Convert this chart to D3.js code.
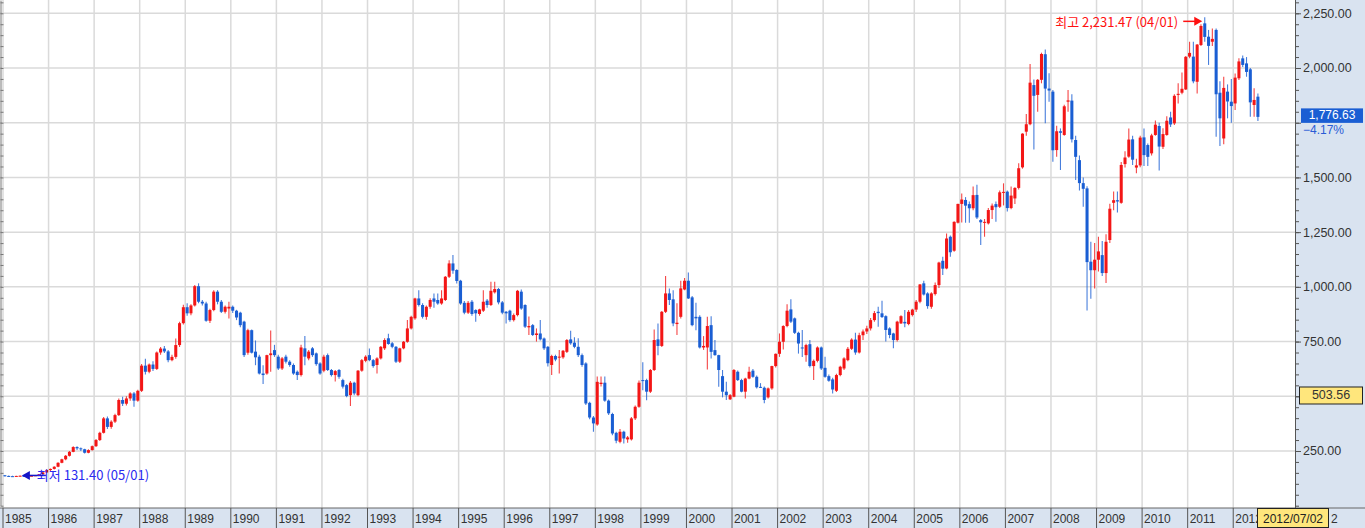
<!DOCTYPE html>
<html>
<head>
<meta charset="utf-8">
<script src="https://cdn.jsdelivr.net/npm/d3@7"></script>
<style>
    html, body { margin: 0; padding: 0; background: #fff; overflow: hidden; }
    svg { display: block; }
</style>
</head>
<body>
<div class="grafic"></div>
<script>

// 연도 라벨 (아래 날짜축)
let years = ["1985", "1986", "1987", "1988", "1989", "1990", "1991", "1992", "1993", "1994",
    "1995", "1996", "1997", "1998", "1999", "2000", "2001", "2002", "2003", "2004",
    "2005", "2006", "2007", "2008", "2009", "2010", "2011", "2012"];

// 월봉 1985/01 ~ 2012/07 : 시가
let openP = [
    139, 136, 135, 134, 136, 137, 134, 137, 137, 139, 144, 152,
    163, 168, 178, 196, 212, 228, 246, 268, 262, 258, 242, 254,
    272, 300, 333, 399, 360, 384, 414, 483, 466, 490, 513, 480,
    525, 640, 612, 645, 625, 700, 718, 705, 665, 680, 734, 834,
    907, 879, 915, 1003, 932, 924, 845, 894, 978, 932, 886, 901,
    909, 891, 882, 841, 699, 802, 704, 681, 604, 604, 688, 711,
    681, 627, 681, 658, 643, 612, 597, 719, 673, 719, 696, 650,
    617, 688, 620, 597, 620, 574, 551, 505, 562, 505, 617, 662,
    688, 665, 643, 673, 719, 765, 742, 726, 658, 719, 749, 810,
    856, 947, 917, 863, 909, 947, 940, 924, 940, 1046, 1107, 1077,
    1028, 927, 882, 932, 894, 876, 891, 937, 917, 975, 990, 929,
    886, 891, 848, 871, 978, 917, 815, 825, 780, 787, 764, 726,
    643, 684, 678, 678, 703, 760, 745, 726, 688, 650, 470, 403,
    371, 556, 562, 480, 419, 333, 292, 338, 303, 303, 399, 452,
    574, 574, 521, 620, 760, 730, 886, 970, 943, 830, 863, 988,
    1028, 952, 863, 863, 723, 723, 825, 711, 688, 592, 521, 486,
    498, 612, 574, 521, 581, 617, 589, 543, 539, 495, 536, 638,
    694, 749, 821, 897, 856, 790, 723, 688, 738, 638, 662, 723,
    630, 592, 577, 525, 597, 627, 665, 717, 759, 700, 779, 796,
    810, 848, 886, 879, 866, 810, 787, 757, 833, 840, 830, 871,
    896, 932, 1016, 970, 909, 967, 1008, 1119, 1084, 1229, 1165, 1293,
    1379, 1397, 1378, 1359, 1420, 1305, 1295, 1290, 1351, 1378, 1366, 1430,
    1435, 1360, 1404, 1452, 1546, 1709, 1743, 1922, 1877, 1946, 2063, 1906,
    1892, 1625, 1711, 1694, 1846, 1851, 1671, 1579, 1474, 1450, 1115, 1076,
    1124, 1145, 1063, 1214, 1384, 1396, 1384, 1561, 1595, 1674, 1545, 1555,
    1683, 1648, 1610, 1694, 1735, 1640, 1694, 1774, 1747, 1877, 1887, 1902,
    2052, 2052, 1937, 2105, 2204, 2143, 2120, 2174, 1887, 1678, 1892, 1846,
    1838, 1953, 2044, 2021, 1994, 1831, 1869
];

// 고가
let highP = [
    140, 138, 137, 137, 138, 139, 138, 140, 140, 145, 155, 165,
    170, 180, 198, 215, 232, 250, 272, 272, 266, 260, 258, 275,
    305, 338, 405, 408, 390, 420, 490, 498, 500, 518, 520, 530,
    648, 672, 650, 660, 705, 725, 730, 712, 690, 764, 840, 918,
    925, 920, 1008, 1016, 940, 932, 900, 985, 985, 940, 915, 932,
    915, 895, 886, 845, 808, 805, 755, 690, 642, 690, 800, 735,
    690, 680, 690, 665, 650, 618, 735, 775, 712, 725, 700, 655,
    690, 695, 625, 620, 625, 580, 556, 570, 566, 620, 670, 688,
    718, 670, 678, 730, 765, 786, 748, 730, 722, 752, 848, 868,
    950, 985, 925, 915, 948, 970, 970, 985, 1050, 1122, 1145, 1080,
    1032, 935, 935, 940, 898, 900, 985, 945, 1023, 1023, 995, 935,
    890, 895, 878, 986, 988, 920, 864, 830, 810, 848, 768, 730,
    690, 690, 711, 712, 762, 799, 770, 765, 695, 655, 475, 410,
    590, 590, 590, 485, 425, 338, 350, 342, 318, 405, 458, 572,
    655, 580, 625, 805, 833, 890, 1049, 993, 985, 925, 1028, 1040,
    1065, 958, 927, 870, 775, 863, 866, 757, 690, 620, 566, 510,
    625, 618, 580, 585, 635, 625, 595, 560, 545, 540, 640, 695,
    787, 825, 921, 943, 860, 795, 803, 740, 757, 668, 728, 728,
    681, 600, 585, 603, 640, 678, 725, 765, 790, 790, 805, 822,
    858, 890, 909, 936, 870, 815, 790, 845, 870, 894, 894, 900,
    940, 1013, 1028, 975, 975, 1020, 1115, 1138, 1244, 1235, 1300, 1380,
    1427, 1410, 1390, 1458, 1466, 1310, 1310, 1360, 1381, 1390, 1440, 1473,
    1440, 1458, 1455, 1565, 1702, 1790, 2018, 1948, 1950, 2070, 2085, 1976,
    1900, 1736, 1724, 1832, 1899, 1880, 1690, 1600, 1500, 1460, 1206, 1200,
    1229, 1210, 1240, 1380, 1436, 1436, 1570, 1620, 1724, 1690, 1585, 1690,
    1724, 1655, 1700, 1760, 1750, 1725, 1780, 1800, 1880, 1930, 1979, 2055,
    2120, 2120, 2110, 2200, 2231.47, 2174, 2180, 2180, 1940, 1960, 1925, 1950,
    1975, 2044, 2057, 2050, 2000, 1907, 1883
];

// 저가
let lowP = [
    133, 133, 133, 133, 134, 131.4, 133, 135, 136, 138, 143, 150,
    158, 165, 176, 194, 208, 225, 244, 255, 250, 238, 240, 252,
    268, 296, 330, 350, 352, 378, 410, 455, 458, 480, 452, 475,
    520, 600, 605, 615, 620, 690, 698, 655, 660, 672, 725, 828,
    868, 870, 910, 925, 915, 840, 835, 888, 920, 880, 878, 855,
    880, 848, 815, 680, 690, 695, 642, 600, 556, 598, 612, 680,
    620, 620, 650, 635, 598, 574, 590, 642, 665, 680, 640, 598,
    610, 615, 590, 567, 580, 535, 495, 455, 505, 500, 612, 655,
    660, 630, 604, 668, 712, 735, 720, 652, 652, 715, 745, 805,
    850, 910, 855, 850, 900, 905, 918, 918, 935, 1040, 1060, 1015,
    918, 875, 876, 868, 840, 868, 885, 905, 912, 970, 920, 875,
    832, 840, 842, 865, 895, 812, 780, 775, 750, 755, 712, 636,
    597, 660, 604, 672, 698, 735, 720, 680, 635, 460, 395, 338,
    365, 545, 475, 415, 322, 285, 285, 284, 288, 298, 392, 448,
    528, 482, 515, 615, 688, 725, 880, 917, 820, 780, 855, 985,
    945, 820, 802, 718, 712, 622, 673, 685, 544, 495, 483, 483,
    495, 570, 518, 490, 578, 585, 535, 538, 468, 490, 530, 632,
    680, 714, 815, 835, 785, 695, 680, 658, 632, 574, 655, 620,
    585, 566, 513, 520, 592, 620, 660, 712, 690, 695, 757, 785,
    800, 840, 818, 858, 750, 765, 720, 750, 830, 815, 825, 865,
    885, 925, 960, 900, 900, 960, 995, 1054, 1080, 1138, 1160, 1290,
    1294, 1293, 1293, 1350, 1310, 1191, 1229, 1285, 1310, 1298, 1360, 1372,
    1344, 1355, 1378, 1445, 1540, 1690, 1738, 1628, 1800, 1930, 1747, 1846,
    1572, 1594, 1534, 1690, 1800, 1660, 1488, 1440, 1366, 892, 946, 993,
    1070, 1050, 1018, 1200, 1350, 1340, 1380, 1545, 1590, 1557, 1519, 1546,
    1552, 1552, 1600, 1690, 1532, 1630, 1690, 1730, 1740, 1838, 1880, 1900,
    2045, 1930, 1884, 2100, 2120, 2014, 2100, 1686, 1644, 1652, 1770, 1750,
    1808, 1945, 2005, 1960, 1777, 1777, 1758
];

// 종가
let closeP = [
    136, 135, 134, 136, 137, 134, 137, 137, 139, 144, 152, 163,
    168, 178, 196, 212, 228, 246, 268, 262, 258, 242, 254, 272,
    300, 333, 399, 360, 384, 414, 483, 466, 490, 513, 480, 525,
    640, 612, 645, 625, 700, 718, 705, 665, 680, 734, 834, 907,
    879, 915, 1003, 932, 924, 845, 894, 978, 932, 886, 909, 909,
    891, 860, 825, 688, 802, 699, 678, 604, 597, 688, 696, 688,
    627, 673, 658, 643, 604, 597, 723, 681, 704, 688, 647, 604,
    681, 620, 597, 615, 589, 544, 501, 562, 513, 617, 665, 681,
    665, 638, 673, 726, 757, 739, 726, 658, 719, 749, 810, 863,
    947, 917, 863, 909, 940, 932, 924, 947, 1046, 1107, 1074, 1027,
    924, 882, 927, 876, 879, 897, 932, 917, 982, 990, 929, 882,
    879, 848, 871, 982, 901, 818, 821, 780, 787, 760, 719, 651,
    684, 668, 681, 708, 757, 742, 726, 688, 643, 467, 403, 376,
    566, 562, 480, 422, 330, 297, 338, 307, 312, 399, 452, 562,
    571, 521, 620, 757, 730, 886, 970, 940, 833, 836, 993, 1028,
    947, 825, 856, 723, 730, 821, 703, 688, 620, 521, 505, 505,
    620, 574, 521, 581, 612, 589, 541, 541, 483, 536, 638, 694,
    749, 821, 891, 841, 790, 741, 720, 734, 638, 662, 723, 627,
    589, 571, 531, 597, 635, 673, 717, 759, 700, 779, 796, 810,
    848, 880, 880, 862, 803, 780, 757, 841, 866, 833, 886, 896,
    932, 1011, 965, 912, 970, 1008, 1111, 1083, 1221, 1158, 1297, 1379,
    1399, 1371, 1359, 1419, 1317, 1295, 1297, 1351, 1371, 1364, 1432, 1434,
    1360, 1417, 1452, 1542, 1700, 1743, 1933, 1873, 1946, 2064, 1906, 1897,
    1624, 1711, 1704, 1825, 1852, 1674, 1594, 1474, 1448, 1113, 1076, 1124,
    1162, 1063, 1206, 1357, 1396, 1390, 1557, 1591, 1673, 1581, 1555, 1682,
    1602, 1594, 1692, 1741, 1641, 1698, 1759, 1742, 1873, 1882, 1905, 2051,
    2069, 1939, 2107, 2192, 2142, 2101, 2133, 1880, 1770, 1909, 1847, 1826,
    1956, 2030, 2014, 1982, 1843, 1854, 1776.63
];

// 가격축 눈금 (500, 1,750 글자는 값 박스에 가려져 안 보임)
let yTicks = [250, 500, 750, 1000, 1250, 1500, 1750, 2000, 2250];
let hiddenTickLabels = [500, 1750];

// 최고/최저 표시의 날짜 글자, 십자선 값/날짜
let extremeDates = ["04/01", "05/01"];
let crossValue = 503.56;
let crossDate = "2012/07/02";


let W = 1365, H = 528;
let axisX = 1295;     // 오른쪽 가격축
let bandTop = 508;    // 아래 날짜축 띠
let panelColor = "#d9e3f0";
let upColor = "#f31616", downColor = "#1a5ed3";
let fmt = d3.format(",.2f");

let keys = closeP.map((d, i) => i);

let xScale = d3.scaleBand()
    .domain(keys)
    .range([3, 3 + keys.length * 3.797])
    .paddingInner(0.2)
    .paddingOuter(0.1);

let yScale = d3.scaleLinear()
    .domain([0, 2310.7])
    .range([505.7, 0]);

let bw = xScale.bandwidth();
let gap = (xScale.step() - bw) / 2;
let yearX = years.map((y, i) => xScale(i * 12) - gap);   // 1월봉 왼쪽 = 연도 경계

let svg = d3.select(".grafic")
    .append("svg")
    .attr("width", W)
    .attr("height", H);

svg.append("rect").attr("width", W).attr("height", H).attr("fill", "#fff");

// 격자
let grid = svg.append("g");
grid.selectAll(".hg")
    .data(yTicks)
    .enter()
    .append("line")
    .attr("x1", 0).attr("x2", axisX)
    .attr("y1", d => yScale(d)).attr("y2", d => yScale(d))
    .attr("stroke", "#dadada").attr("stroke-width", 1.5);

grid.selectAll(".vg")
    .data(yearX)
    .enter()
    .append("line")
    .attr("x1", d => d).attr("x2", d => d)
    .attr("y1", 0).attr("y2", bandTop)
    .attr("stroke", "#dadada").attr("stroke-width", 1.5);

// 왼쪽 작은 눈금
let leftAxis = svg.append("g")
    .attr("transform", "translate(0.5,0)")
    .call(d3.axisRight(yScale).tickValues(d3.range(0, 2301, 50)).tickSize(3).tickSizeOuter(0).tickFormat(""));
leftAxis.selectAll("line, path").attr("stroke", "#777");

// 캔들
let candle = svg.append("g")
    .selectAll("g")
    .data(keys)
    .enter()
    .append("g")
    .attr("fill", i => closeP[i] >= openP[i] ? upColor : downColor)
    .attr("stroke", i => closeP[i] >= openP[i] ? upColor : downColor);

candle.append("line")
    .attr("x1", i => xScale(i) + bw / 2)
    .attr("x2", i => xScale(i) + bw / 2)
    .attr("y1", i => yScale(highP[i]))
    .attr("y2", i => yScale(lowP[i]))
    .attr("stroke-width", 1.1)
    .attr("stroke-opacity", 0.8);

candle.append("rect")
    .attr("stroke", "none")
    .attr("x", i => xScale(i))
    .attr("width", bw)
    .attr("y", i => yScale(Math.max(openP[i], closeP[i])))
    .attr("height", i => Math.max(1, Math.abs(yScale(openP[i]) - yScale(closeP[i]))));

// 최고/최저 표시
let hi = d3.maxIndex(highP);
let lo = d3.minIndex(lowP);

let hx = xScale(hi) - 1, hy = yScale(highP[hi]) + 4;
let hiMark = svg.append("g").attr("fill", "#ff1010").attr("stroke", "#ff1010");
hiMark.append("line").attr("x1", hx - 19).attr("x2", hx - 5).attr("y1", hy).attr("y2", hy).attr("stroke-width", 1.5);
hiMark.append("path").attr("stroke", "none")
    .attr("d", "M" + hx + "," + hy + "L" + (hx - 8) + "," + (hy - 4.5) + "L" + (hx - 8) + "," + (hy + 4.5) + "Z");
hiMark.append("text")
    .attr("stroke", "none")
    .attr("x", hx - 24).attr("y", hy)
    .attr("text-anchor", "end").attr("dominant-baseline", "central")
    .style("font", "13px 'Noto Sans CJK KR'")
    .text("최고 " + fmt(highP[hi]) + " (" + extremeDates[0] + ")");

let lx = xScale(lo) - 0.5, ly = yScale(lowP[lo]) - 1.5;
let loMark = svg.append("g").attr("fill", "#1414c8").attr("stroke", "#1414c8");
loMark.append("line").attr("x1", lx + 5).attr("x2", lx + 24).attr("y1", ly).attr("y2", ly).attr("stroke-width", 1.5);
loMark.append("path").attr("stroke", "none")
    .attr("d", "M" + lx + "," + ly + "L" + (lx + 8) + "," + (ly - 4.5) + "L" + (lx + 8) + "," + (ly + 4.5) + "Z");
loMark.append("text")
    .attr("stroke", "none")
    .attr("fill", "#2a2af0")
    .attr("x", lx + 15).attr("y", ly - 1)
    .attr("dominant-baseline", "central")
    .style("font", "13px 'Noto Sans CJK KR'")
    .text("최저 " + fmt(lowP[lo]) + " (" + extremeDates[1] + ")");

// 오른쪽 가격축 패널
svg.append("rect").attr("x", axisX).attr("y", 0).attr("width", W - axisX).attr("height", H).attr("fill", panelColor);

let minor = svg.append("g")
    .attr("transform", "translate(" + axisX + ",0)")
    .call(d3.axisRight(yScale).tickValues(d3.range(0, 2301, 50)).tickSize(4).tickSizeOuter(0).tickFormat(""));
minor.selectAll("line, path").attr("stroke", "#555");

let major = svg.append("g")
    .attr("transform", "translate(" + axisX + ",0)")
    .call(d3.axisRight(yScale).tickValues(yTicks).tickSize(6).tickSizeOuter(0).tickPadding(2)
        .tickFormat(d => hiddenTickLabels.includes(d) ? "" : fmt(d)));
major.selectAll("line, path").attr("stroke", "#555");
major.selectAll("text")
    .attr("fill", "#333")
    .style("font", "12.5px 'Liberation Sans'");

// 아래 날짜축 띠
svg.append("rect").attr("x", 0).attr("y", bandTop).attr("width", W).attr("height", H - bandTop).attr("fill", panelColor);
svg.append("line").attr("x1", 0).attr("x2", W).attr("y1", bandTop).attr("y2", bandTop).attr("stroke", "#666");
svg.append("line").attr("x1", axisX + 0.5).attr("x2", axisX + 0.5).attr("y1", 0).attr("y2", bandTop).attr("stroke", "#555");

let yearG = svg.append("g")
    .selectAll("g")
    .data(years)
    .enter()
    .append("g")
    .attr("transform", (d, i) => "translate(" + yearX[i] + "," + bandTop + ")");
yearG.append("line").attr("y1", 0).attr("y2", H - bandTop).attr("stroke", "#555");
yearG.append("text")
    .attr("x", 2).attr("y", 10.5)
    .attr("dominant-baseline", "central")
    .attr("fill", "#333")
    .style("font", "12px 'Liberation Sans'")
    .text(d => d);

// 현재가 박스
let last = closeP.length - 1;
let lastY = yScale(closeP[last]);
svg.append("rect").attr("x", 1301).attr("y", lastY - 8.5).attr("width", 62).attr("height", 14.5).attr("fill", "#1a5ed3");
svg.append("text")
    .attr("x", 1332).attr("y", lastY - 1.5)
    .attr("text-anchor", "middle").attr("dominant-baseline", "central")
    .attr("fill", "#fff")
    .style("font", "12px 'Liberation Sans'")
    .text(fmt(closeP[last]));
svg.append("text")
    .attr("x", 1303).attr("y", lastY + 13)
    .attr("dominant-baseline", "central")
    .attr("fill", "#2a5bd6")
    .style("font", "12px 'Liberation Sans'")
    .text(d3.format(".2f")((closeP[last] / closeP[last - 1] - 1) * 100) + "%");

// 십자선 값/날짜 박스
let cy = yScale(crossValue);
svg.append("rect").attr("x", 1299.5).attr("y", cy - 8.5).attr("width", 63).attr("height", 17)
    .attr("fill", "#ffe67c").attr("stroke", "#222");
svg.append("text")
    .attr("x", 1331).attr("y", cy)
    .attr("text-anchor", "middle").attr("dominant-baseline", "central")
    .attr("fill", "#333")
    .style("font", "12.5px 'Liberation Sans'")
    .text(fmt(crossValue));

svg.append("rect").attr("x", 1257.5).attr("y", bandTop + 0.5).attr("width", 71).attr("height", H - bandTop - 1)
    .attr("fill", "#ffe67c").attr("stroke", "#222");
svg.append("text")
    .attr("x", 1293).attr("y", bandTop + 10.5)
    .attr("text-anchor", "middle").attr("dominant-baseline", "central")
    .attr("fill", "#222")
    .style("font", "12px 'Liberation Sans'")
    .text(crossDate);
svg.append("text")
    .attr("x", 1331).attr("y", bandTop + 10.5)
    .attr("dominant-baseline", "central")
    .attr("fill", "#333")
    .style("font", "12px 'Liberation Sans'")
    .text("2");

</script>
</body>
</html>
